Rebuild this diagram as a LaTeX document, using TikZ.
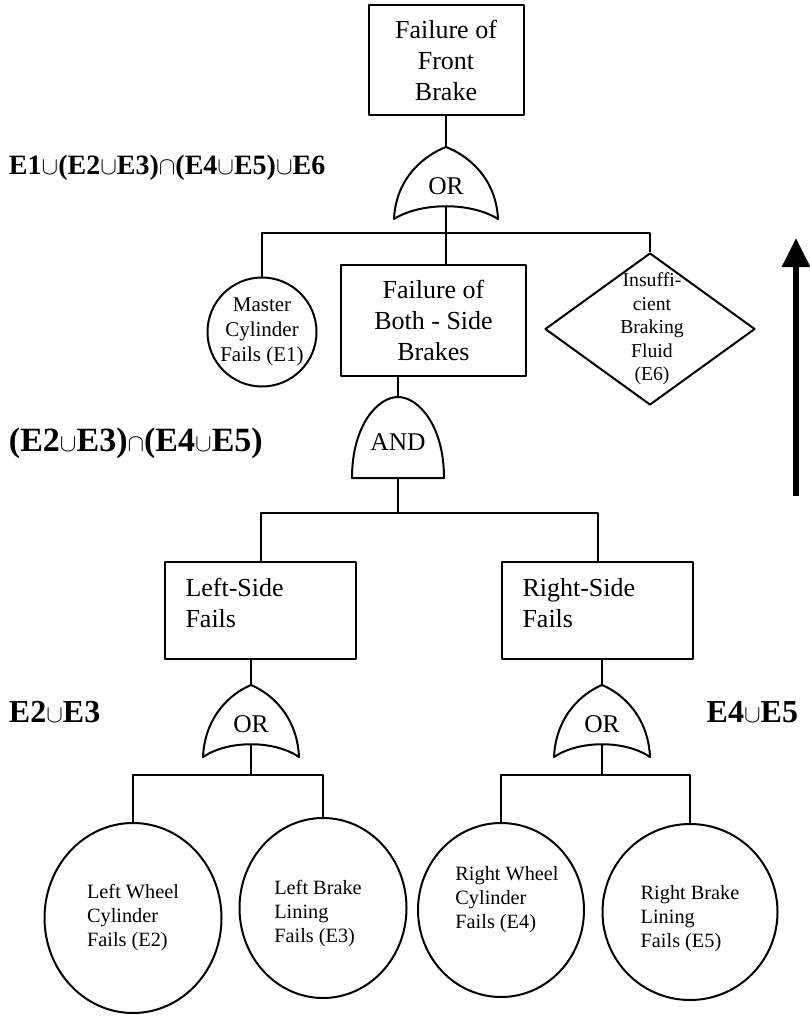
\documentclass[tikz,border=0pt]{standalone}
\usepackage{fontspec}
\setmainfont{Liberation Serif}
\usetikzlibrary{arrows.meta,positioning,calc,shapes.geometric}

% gate outlines, drawn from the apex downwards
\newcommand{\orgate}[4]{%
  \coordinate (#1-in) at #2;
  \coordinate (#1-out) at ($(#1-in)+(0,59)$);
  \draw (#1-in) .. controls +(-0.4*#3,8) and +(2,-42) .. ++(-#3,72)
    .. controls +(0.52*#3,-17) and +(-0.52*#3,-17) .. ++(2*#3,0)
    .. controls +(-2,-42) and +(0.4*#3,8) .. (#1-in) -- cycle;
  \node[gatetext] (#1) at ($(#1-in)+(0,39)$) {#4};
}
\newcommand{\andgate}[3]{%
  \coordinate (#1-in) at #2;
  \coordinate (#1-out) at ($(#1-in)+(0,81)$);
  \draw ($(#1-in)+(-46,81)$) .. controls +(0,-53) and +(-20,0) .. (#1-in)
    .. controls +(20,0) and +(0,-53) .. ++(46,81) -- cycle;
  \node[gatetext] (#1) at ($(#1-in)+(0,45)$) {#3};
}

\begin{document}
\begin{tikzpicture}[x=1pt,y=-1pt,line width=2pt,line join=round,
    box/.style={draw,inner sep=0pt,align=center,font=\fontsize{26}{31}\selectfont},
    sidebox/.style={box,align=left,text width=150,minimum width=191,minimum height=97,text depth=47pt},
    basic/.style={draw,inner sep=0pt},
    gatetext/.style={inner sep=0pt,font=\fontsize{25.5}{30}\selectfont},
    smalltext/.style={align=center,font=\fontsize{21}{25}\selectfont},
    diamtext/.style={align=center,font=\fontsize{19.7}{23.5}\selectfont},
    wheeltext/.style={align=left,font=\fontsize{20.3}{24}\selectfont},
    formula/.style={inner sep=0pt,font=\bfseries\fontsize{28}{32}\selectfont}]
    \useasboundingbox (0,0) rectangle (810,1016);
    % Top event
    \node[box,minimum width=155,minimum height=110] (top) at (446,60) {Failure of\\Front\\Brake};
    \orgate{g1}{(446,147)}{52}{OR}
    \draw (top.south) -- (g1-in);
    % Second level
    \node[basic,circle,minimum size=109,label={[name=e1t,smalltext]center:Master\\Cylinder\\Fails (E1)}] (e1) at (262,332) {};
    \node[box,minimum width=185,minimum height=111] (both) at (433.5,320.5) {Failure of\\Both - Side\\Brakes};
    \node[basic,diamond,minimum width=210,minimum height=152,label={[name=e6t,diamtext,xshift=2pt]center:Insuffi-\\cient\\Braking\\Fluid\\(E6)}] (e6) at (650,329) {};
    \coordinate (j1) at (446,233);
    \draw (g1-out) -- (g1-out |- both.north);
    \draw (e1.north) |- (j1) -| (e6.north);
    % AND gate
    \andgate{a1}{(398,397)}{AND}
    \draw (a1-in |- both.south) -- (a1-in);
    \coordinate (j0) at (398,513);
    \draw (a1-out) -- (j0);
    \node[sidebox] (left) at (260.5,610.5) {Left-Side\\Fails};
    \node[sidebox] (right) at (597.5,610.5) {Right-Side\\Fails};
    \draw (left.north) |- (j0) -| (right.north);
    % Lower OR gates
    \orgate{g2}{(251,685)}{48}{OR}
    \orgate{g3}{(602,685)}{48}{OR}
    \draw (g2-in |- left.south) -- (g2-in);
    \draw (g3-in |- right.south) -- (g3-in);
    \coordinate (j2) at (251,775);
    \coordinate (j3) at (602,775);
    \draw (g2-out) -- (j2);
    \draw (g3-out) -- (j3);
    % Basic events
    \node[basic,ellipse,minimum width=177,minimum height=190,label={[name=e2t,wheeltext]center:Left Wheel\\Cylinder\\Fails (E2)}] (e2) at (133,918) {};
    \node[basic,ellipse,minimum width=167,minimum height=180,label={[name=e3t,wheeltext,xshift=-5pt,yshift=-6pt]center:Left Brake\\Lining\\Fails (E3)}] (e3) at (323,908) {};
    \node[basic,ellipse,minimum width=166,minimum height=174,label={[name=e4t,wheeltext,xshift=6pt,yshift=10pt]center:Right Wheel\\Cylinder\\Fails (E4)}] (e4) at (501,910) {};
    \node[basic,ellipse,minimum width=175,minimum height=176,label={[name=e5t,wheeltext,yshift=-7pt]center:Right Brake\\Lining\\Fails (E5)}] (e5) at (690,912) {};
    \draw (e2.north) |- (j2) -| (e3.north);
    \draw (e4.north) |- (j3) -| (e5.north);
    % Boolean expressions
    \node[formula,anchor=west] (f1) at (8,168) {E1$\cup$(E2$\cup$E3)$\cap$(E4$\cup$E5)$\cup$E6};
    \node[formula,font=\bfseries\fontsize{34}{38}\selectfont,anchor=west] (f2) at (8,443) {(E2$\cup$E3)$\cap$(E4$\cup$E5)};
    \node[formula,font=\bfseries\fontsize{32}{38}\selectfont,anchor=west] (f3) at (8,712) {E2$\cup$E3};
    \node[formula,font=\bfseries\fontsize{32}{38}\selectfont,anchor=east] (f4) at (799,712) {E4$\cup$E5};
    % Direction of analysis
    \coordinate (up0) at (796,496);
    \coordinate (up1) at (796,238);
    \draw[line width=6pt,-{Triangle[length=29pt,width=27pt]}] (up0) -- (up1);
  \end{tikzpicture}
\end{document}
